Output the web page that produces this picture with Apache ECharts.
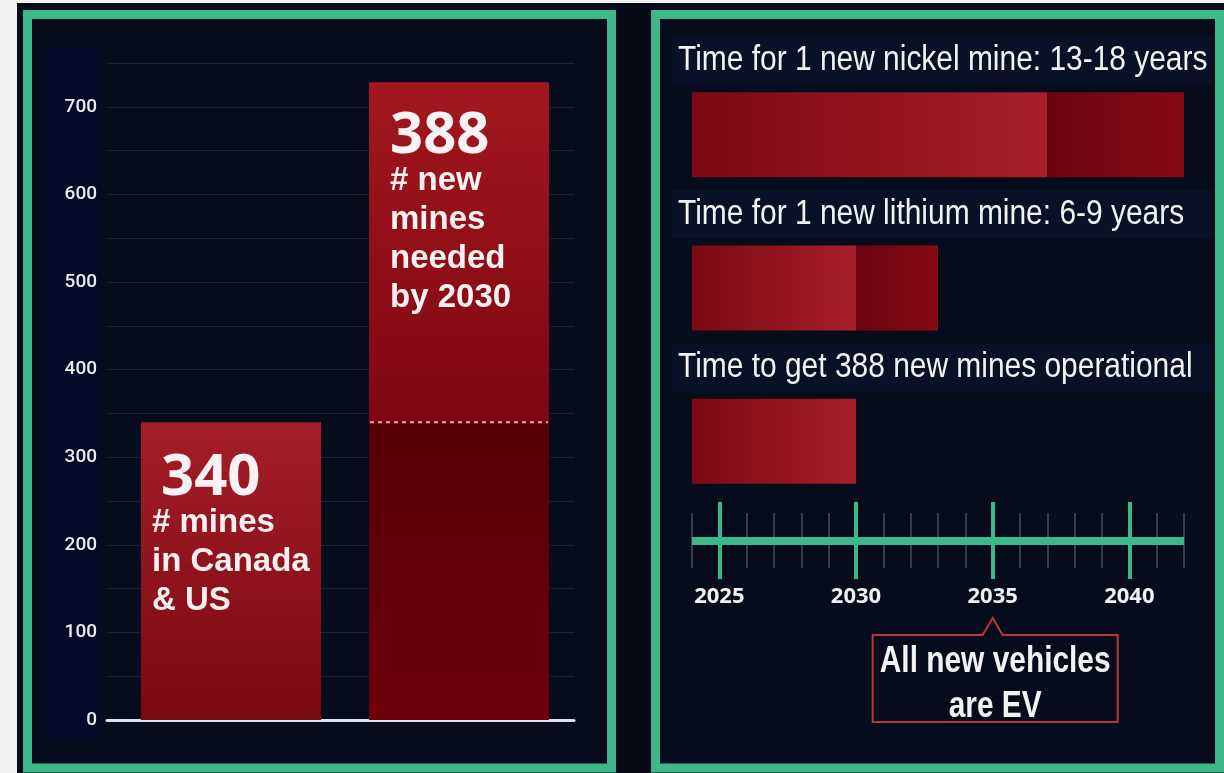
<!DOCTYPE html>
<html>
<head>
<meta charset="utf-8">
<title>Mines needed for the EV transition</title>
<script src="https://cdn.jsdelivr.net/npm/echarts/dist/echarts.min.js"></script>
<style>
  html, body { margin: 0; padding: 0; background: #f2f2f2; }
  #chart { width: 1224px; height: 773px; }
</style>
</head>
<body>
<div id="chart"></div>
<script>
// ---- Left panel: number of mines ----
const mineCategories = ['Canada & US', 'Needed by 2030'];
const existingMines = [340, 340];      // operating mines, base of both columns
const newMinesNeeded = [null, 388];    // extra mines needed by 2030
const mineCaptions = [
  ['# mines', 'in Canada', '& US'],
  ['# new', 'mines', 'needed', 'by 2030']
];
const mineTicks = [0, 100, 200, 300, 400, 500, 600, 700];

// ---- Right panel: time to bring mines online ----
const timelineCategories = ['Nickel mine', 'Lithium mine', '388 new mines'];
const timelineTitles = [
  'Time for 1 new nickel mine: 13-18 years',
  'Time for 1 new lithium mine: 6-9 years',
  'Time to get 388 new mines operational'
];
const startYear = 2024;
const minYears = [13, 6, 6];
const maxYears = [18, 9, 6];
const timelineYears = [2024, 2025, 2026, 2027, 2028, 2029, 2030, 2031, 2032, 2033,
                       2034, 2035, 2036, 2037, 2038, 2039, 2040, 2041, 2042];
const majorYears = [2025, 2030, 2035, 2040];
const evYear = 2035;
const evNote = 'All new vehicles\nare EV';

const GREEN = '#3cb88a';
const PANEL_BG = '#060c1b';

const chart = echarts.init(document.getElementById('chart'));

const vGrad = (top, bottom) => new echarts.graphic.LinearGradient(0, 0, 0, 1,
  [{ offset: 0, color: top }, { offset: 1, color: bottom }]);
const hGrad = (left, right) => new echarts.graphic.LinearGradient(0, 0, 1, 0,
  [{ offset: 0, color: left }, { offset: 1, color: right }]);

function captionText(value, idx) {
  return '{num|' + value + '}\n' + mineCaptions[idx].map(s => '{txt|' + s + '}').join('\n');
}

function captionRich(numIndent) {
  return {
    num: { fontFamily: 'Open Sans', fontWeight: 'bold', fontSize: 58, color: '#f8f2f2',
           lineHeight: 50, padding: [0, 0, 0, numIndent] },
    txt: { fontFamily: 'Liberation Sans', fontWeight: 'bold', fontSize: 33, color: '#f6f0f0',
           lineHeight: 39 }
  };
}

const isMajor = (idx, val) => majorYears.indexOf(Number(val)) !== -1;

const timelineAxisBase = {
  type: 'category', gridIndex: 1, data: timelineYears, boundaryGap: false,
  position: 'bottom', offset: 23, splitLine: { show: false }
};

const option = {
  backgroundColor: '#f2f2f2',
  animation: false,
  grid: [
    { left: 117, right: 651, top: 63, bottom: 53, containLabel: false, outerBoundsMode: 'none' },
    { left: 692, right: 40, top: 58, bottom: 255, containLabel: false, outerBoundsMode: 'none' },
    { left: 107, right: 650, top: 63, bottom: 53, containLabel: false, outerBoundsMode: 'none' }
  ],
  xAxis: [
    { type: 'category', gridIndex: 0, data: mineCategories, show: false },
    { type: 'value', gridIndex: 1, min: 0, max: timelineYears[timelineYears.length - 1] - startYear, show: false },
    Object.assign({}, timelineAxisBase, {
      z: 4,
      axisLine: { show: true, lineStyle: { color: GREEN, width: 8, cap: 'butt' } },
      axisTick: { show: true, interval: isMajor, length: 38, lineStyle: { color: GREEN, width: 4 } },
      axisLabel: { show: true, interval: isMajor, margin: 45, color: '#f0f0f0',
                   fontFamily: 'Open Sans', fontWeight: 'bold', fontSize: 22 }
    }),
    Object.assign({}, timelineAxisBase, {
      z: 4,
      axisLine: { show: false },
      axisTick: { show: true, inside: true, interval: isMajor, length: 39, lineStyle: { color: GREEN, width: 4 } },
      axisLabel: { show: false }
    }),
    Object.assign({}, timelineAxisBase, {
      z: 1,
      axisLine: { show: false },
      axisTick: { show: true, interval: 0, length: 27, lineStyle: { color: '#33404a', width: 2 } },
      axisLabel: { show: false }
    }),
    Object.assign({}, timelineAxisBase, {
      z: 1,
      axisLine: { show: false },
      axisTick: { show: true, inside: true, interval: 0, length: 28, lineStyle: { color: '#33404a', width: 2 } },
      axisLabel: { show: false }
    }),
    { type: 'value', gridIndex: 2, min: 0, max: 1,
      axisLine: { show: true, lineStyle: { color: '#dfe0e8', width: 3 } },
      axisTick: { show: false }, axisLabel: { show: false }, splitLine: { show: false } }
  ],
  yAxis: [
    { type: 'value', gridIndex: 0, min: 0, max: 750, show: false },
    { type: 'category', gridIndex: 1, data: timelineCategories, inverse: true, show: false },
    { type: 'value', gridIndex: 2, min: 0, max: 750, interval: 50,
      axisLine: { show: false }, axisTick: { show: false },
      axisLabel: {
        margin: 10, color: '#ececf0', fontFamily: 'Roboto', fontWeight: 500, fontSize: 19,
        formatter: v => (mineTicks.indexOf(v) !== -1 ? String(v) : '')
      },
      splitLine: { show: true, lineStyle: { color: '#1a2333', width: 1 } } }
  ],
  series: [
    {
      name: 'Mines in Canada & US', type: 'bar', xAxisIndex: 0, yAxisIndex: 0,
      stack: 'mines', barWidth: 180,
      data: existingMines.map((v, i) => ({
        value: v,
        itemStyle: { color: i === 0 ? vGrad('#a41d28', '#7a0913') : vGrad('#560006', '#6e000a') },
        label: { show: i === 0 }
      })),
      label: {
        position: 'insideTopLeft', distance: 0, offset: [11, 31],
        formatter: p => captionText(p.value, p.dataIndex), rich: captionRich(9)
      }
    },
    {
      name: 'New mines needed by 2030', type: 'bar', xAxisIndex: 0, yAxisIndex: 0,
      stack: 'mines', barWidth: 180,
      data: newMinesNeeded.map(v => (v == null ? '-' : v)),
      itemStyle: { color: vGrad('#a2171f', '#7e0713') },
      label: {
        show: true, position: 'insideTopLeft', distance: 0, offset: [21, 29],
        formatter: p => captionText(p.value, p.dataIndex), rich: captionRich(0)
      }
    },
    {
      name: 'Shortest timeline', type: 'bar', xAxisIndex: 1, yAxisIndex: 1,
      stack: 'time', barWidth: 85,
      data: minYears,
      itemStyle: { color: hGrad('#7c0913', '#a71e29') }
    },
    {
      name: 'Longest timeline', type: 'bar', xAxisIndex: 1, yAxisIndex: 1,
      stack: 'time', barWidth: 85,
      data: maxYears.map((v, i) => (v - minYears[i] > 0 ? v - minYears[i] : '-')),
      itemStyle: { color: hGrad('#6c040f', '#860a16') }
    }
  ]
};

chart.setOption(option);

// Decorations that depend on the axis scales
const dashEnds = chart.convertToPixel({ xAxisIndex: 0, yAxisIndex: 0 }, [1, existingMines[1]]);
const evX = chart.convertToPixel({ xAxisIndex: 1 }, evYear - startYear);
const barRows = timelineCategories.map((c, i) => chart.convertToPixel({ yAxisIndex: 1 }, i));

const titleY = barRows.map(y => y - 74);
const calloutTop = 635, calloutBottom = 722;
const calloutLeft = evX - 120, calloutRight = evX + 125;

const elements = [
  { type: 'rect', z: -20, shape: { x: 17, y: 3, width: 1207, height: 770 }, style: { fill: '#070b15' } },
  { type: 'rect', z: -19, shape: { x: 27.5, y: 14.5, width: 584, height: 753.5 },
    style: { fill: PANEL_BG, stroke: GREEN, lineWidth: 9 } },
  { type: 'rect', z: -19, shape: { x: 655.5, y: 14.5, width: 564, height: 753.5 },
    style: { fill: PANEL_BG, stroke: GREEN, lineWidth: 9 } },
  { type: 'rect', z: -18, shape: { x: 43, y: 47, width: 55, height: 691, r: 4 }, style: { fill: '#040a27' } },
  // dashed divider between existing and new mines
  { type: 'line', z: 50,
    shape: { x1: dashEnds[0] - 89, y1: dashEnds[1], x2: dashEnds[0] + 89, y2: dashEnds[1] },
    style: { stroke: '#e9a3a3', lineWidth: 2, lineDash: [4, 4] } }
];

timelineTitles.forEach((t, i) => {
  elements.push({ type: 'rect', z: -18,
    shape: { x: 672, y: titleY[i] - 24, width: 540, height: 48 }, style: { fill: '#091129' } });
  elements.push({ type: 'text', z: 50, x: 678, y: titleY[i], scaleX: 0.855,
    style: { text: t, x: 0, y: 0, fill: '#f2f2f2', fontSize: 35, fontFamily: 'Liberation Sans',
             verticalAlign: 'middle', align: 'left' } });
});

// callout pointing at the EV year on the timeline
elements.push({ type: 'polygon', z: 40,
  shape: { points: [
    [calloutLeft, calloutTop], [evX - 10, calloutTop], [evX, calloutTop - 17], [evX + 10, calloutTop],
    [calloutRight, calloutTop], [calloutRight, calloutBottom], [calloutLeft, calloutBottom]
  ] },
  style: { fill: PANEL_BG, stroke: '#b3393a', lineWidth: 2 } });
elements.push({ type: 'text', z: 50, x: (calloutLeft + calloutRight) / 2, y: calloutTop + 5, scaleX: 0.83,
  style: { text: evNote, x: 0, y: 0, fill: '#f2f2f2', fontSize: 36, fontWeight: 'bold',
           fontFamily: 'Liberation Sans', align: 'center', verticalAlign: 'top', lineHeight: 45 } });

chart.setOption({ graphic: { elements: elements } });
</script>
</body>
</html>
